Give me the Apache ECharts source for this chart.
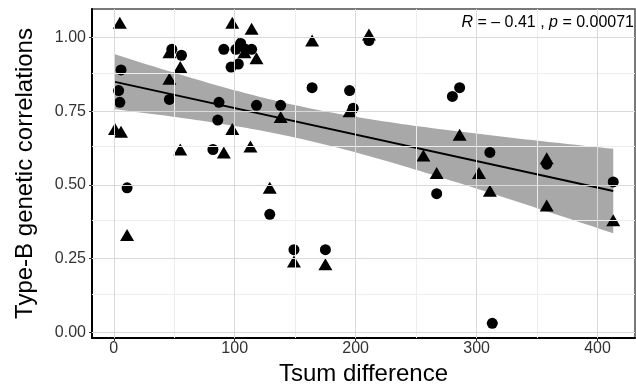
<!DOCTYPE html>
<html>
<head>
<meta charset="utf-8">
<script src="https://cdn.jsdelivr.net/npm/echarts@6/dist/echarts.min.js"></script>
<style>
  html, body { margin: 0; padding: 0; background: #fff; }
  #chart { width: 636px; height: 385px; }
</style>
</head>
<body>
<div id="chart"></div>
<script>
// circles
var circleX = [6, 4, 5, 11, 48, 56, 46, 91, 97, 103, 101, 105, 109, 114, 87, 86, 82, 118, 138, 164, 195, 198, 211, 129, 149, 175, 267, 280, 286, 311, 358, 413, 313];
var circleY = [0.89, 0.82, 0.78, 0.49, 0.96, 0.94, 0.79, 0.96, 0.90, 0.91, 0.96, 0.98, 0.96, 0.96, 0.78, 0.72, 0.62, 0.77, 0.77, 0.83, 0.82, 0.76, 0.99, 0.40, 0.28, 0.28, 0.47, 0.80, 0.83, 0.61, 0.57, 0.51, 0.03];
// triangles
var triangleX = [5, 1, 6, 11, 46, 55, 46, 55, 98, 114, 103, 108, 118, 98, 91, 113, 164, 211, 195, 138, 129, 149, 175, 256, 267, 286, 302, 311, 358, 358, 413];
var triangleY = [1.05, 0.69, 0.68, 0.33, 0.95, 0.90, 0.86, 0.62, 1.05, 1.03, 0.98, 0.95, 0.93, 0.69, 0.61, 0.63, 0.99, 1.01, 0.75, 0.73, 0.49, 0.24, 0.23, 0.60, 0.54, 0.67, 0.54, 0.48, 0.59, 0.43, 0.38];

var xTicks = [0, 100, 200, 300, 400];
var yTicks = [0, 0.25, 0.5, 0.75, 1.0];
var statLabel = '{i|R} = \u2013 0.41 , {i|p} = 0.00071';

// minor grid lines halfway between the major ones
var xMinor = [], yMinor = [];
for (var i = 1; i < xTicks.length; i++) xMinor.push((xTicks[i - 1] + xTicks[i]) / 2);
for (var j = 1; j < yTicks.length; j++) yMinor.push((yTicks[j - 1] + yTicks[j]) / 2);

// linear fit + 95% confidence band over all points
var allX = circleX.concat(triangleX);
var allY = circleY.concat(triangleY);
var n = allX.length;
var mx = 0, my = 0;
for (var k = 0; k < n; k++) { mx += allX[k]; my += allY[k]; }
mx /= n; my /= n;
var sxx = 0, sxy = 0;
for (k = 0; k < n; k++) { sxx += (allX[k] - mx) * (allX[k] - mx); sxy += (allX[k] - mx) * (allY[k] - my); }
var slope = sxy / sxx, icept = my - slope * mx;
var sse = 0;
for (k = 0; k < n; k++) { var r = allY[k] - icept - slope * allX[k]; sse += r * r; }
var sd = Math.sqrt(sse / (n - 2));
var tq = 1.999; // qt(0.975, 62)
var xLo = Math.min.apply(null, allX), xHi = Math.max.apply(null, allX);
var fitLine = [[xLo, icept + slope * xLo], [xHi, icept + slope * xHi]];
var bandUp = [], bandDn = [];
for (k = 0; k <= 80; k++) {
  var xx = xLo + (xHi - xLo) * k / 80;
  var yy = icept + slope * xx;
  var se = sd * Math.sqrt(1 / n + (xx - mx) * (xx - mx) / sxx);
  bandUp.push([xx, yy + tq * se]);
  bandDn.push([xx, yy - tq * se]);
}

var gridLines = [];
xMinor.forEach(function (v) { gridLines.push({ xAxis: v, lineStyle: { color: '#ededed', width: 1, type: 'solid' } }); });
yMinor.forEach(function (v) { gridLines.push({ yAxis: v, lineStyle: { color: '#ededed', width: 1, type: 'solid' } }); });
xTicks.forEach(function (v) { gridLines.push({ xAxis: v, lineStyle: { color: '#d9d9d9', width: 1, type: 'solid' } }); });
yTicks.forEach(function (v) { gridLines.push({ yAxis: v, lineStyle: { color: '#d9d9d9', width: 1, type: 'solid' } }); });

var FONT = '"Liberation Sans", Arial, sans-serif';

var chart = echarts.init(document.getElementById('chart'));
chart.setOption({
  animation: false,
  backgroundColor: '#fff',
  grid: {
    left: 92, right: 1, top: 9, bottom: 47,
    outerBoundsMode: 'none', containLabel: false,
    show: true, borderColor: '#4d4d4d', borderWidth: 1.5, backgroundColor: '#fff'
  },
  xAxis: {
    type: 'value', min: -18, max: 431,
    name: 'Tsum difference', nameLocation: 'middle', nameGap: 18,
    nameTextStyle: { fontFamily: FONT, fontSize: 24, color: '#000' },
    axisLine: { show: true, onZero: false, lineStyle: { color: '#000', width: 2 } },
    axisTick: { show: true, length: 3, customValues: xTicks, lineStyle: { color: '#333' } },
    axisLabel: { customValues: xTicks, margin: 3, fontFamily: FONT, fontSize: 16, color: '#333' },
    splitLine: { show: false }
  },
  yAxis: {
    type: 'value', min: -0.02, max: 1.097,
    name: 'Type-B genetic correlations', nameLocation: 'middle', nameGap: 55,
    nameTextStyle: { fontFamily: FONT, fontSize: 24, color: '#000' },
    axisLine: { show: true, onZero: false, lineStyle: { color: '#000', width: 2 } },
    axisTick: { show: true, length: 3, customValues: yTicks, lineStyle: { color: '#333' } },
    axisLabel: {
      customValues: yTicks, margin: 6, fontFamily: FONT, fontSize: 16, color: '#333',
      formatter: function (v) { return v.toFixed(2); }
    },
    splitLine: { show: false }
  },
  graphic: [{
    type: 'text', right: 2, top: 15, z: 10,
    style: {
      text: statLabel, fontFamily: FONT, fontSize: 16, fill: '#000',
      rich: { i: { fontStyle: 'italic', fontFamily: FONT, fontSize: 16 } }
    }
  }],
  series: [
    {
      type: 'line', data: [], z: 1, silent: true,
      markLine: { silent: true, symbol: 'none', label: { show: false }, animation: false, data: gridLines }
    },
    {
      type: 'custom', z: 2, silent: true,
      data: [0],
      renderItem: function (params, api) {
        var pts = bandUp.map(function (p) { return api.coord(p); });
        for (var m = bandDn.length - 1; m >= 0; m--) pts.push(api.coord(bandDn[m]));
        return { type: 'polygon', shape: { points: pts }, style: { fill: '#a8a8a8' } };
      }
    },
    {
      type: 'line', z: 3, data: fitLine, symbol: 'none', silent: true,
      lineStyle: { color: '#000', width: 2 }
    },
    {
      type: 'scatter', z: 4, symbol: 'circle', symbolSize: 11,
      itemStyle: { color: '#000', opacity: 1 },
      data: circleX.map(function (x, idx) { return [x, circleY[idx]]; })
    },
    {
      type: 'scatter', z: 4, symbol: 'triangle', symbolSize: [14, 12],
      itemStyle: { color: '#000', opacity: 1 },
      data: triangleX.map(function (x, idx) { return [x, triangleY[idx]]; })
    }
  ]
});
</script>
</body>
</html>
